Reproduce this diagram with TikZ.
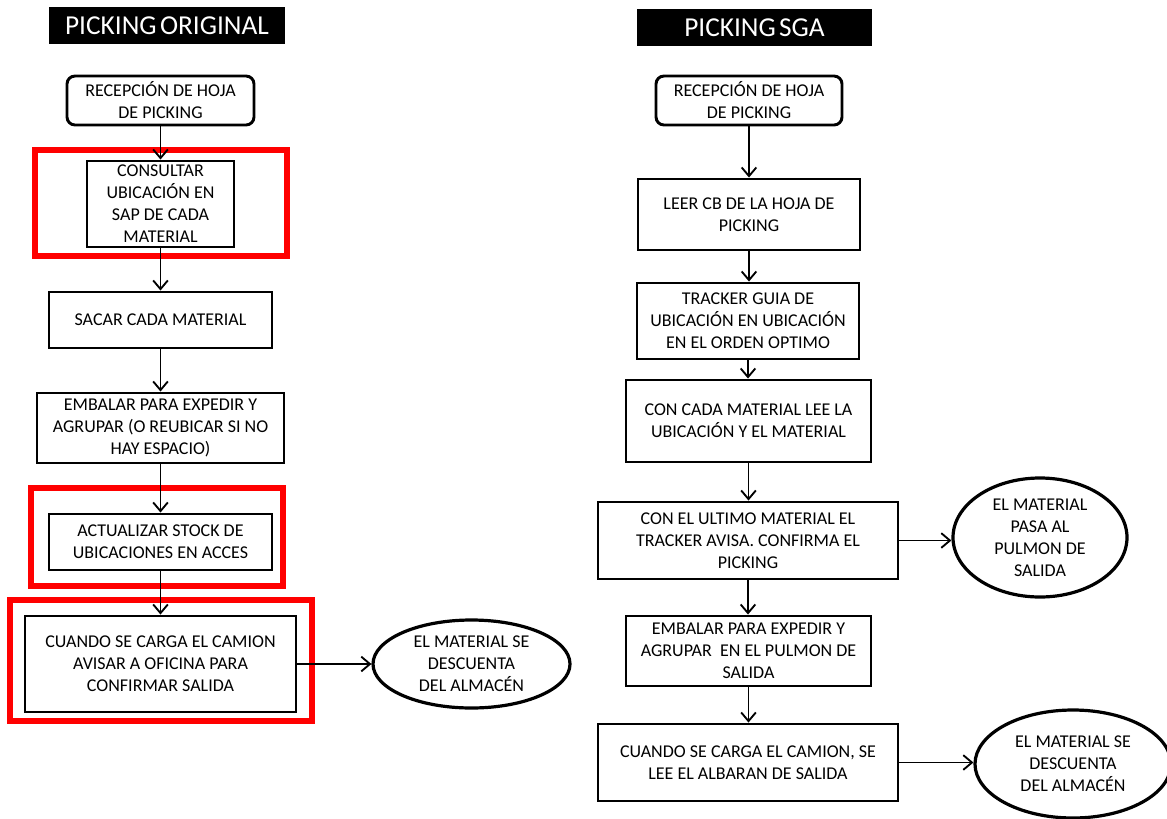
\documentclass[tikz,border=0pt]{standalone}
\usepackage{fontspec}
\setmainfont{Carlito}
\usetikzlibrary{arrows.meta,shapes.geometric}
\begin{document}
\begin{tikzpicture}[x=0.75pt,y=-0.75pt,
  txt/.style={font=\fontsize{13.5}{16.5}\selectfont, align=center, inner sep=0pt},
  box/.style={txt, draw, line width=2.2pt, rectangle},
  rbox/.style={box, rounded corners=6pt},
  oval/.style={txt, draw, line width=2.4pt, ellipse},
  title/.style={fill=black, text=white, font=\fontsize{20.5}{22}\selectfont, inner sep=0pt},
  hl/.style={draw=red, line width=3.8pt},
  flow/.style={line width=1.4pt, -{Straight Barb[length=6.5pt,width=11pt,line width=1.4pt]}}
]
\useasboundingbox (0,0) rectangle (1167,818);

% ---------- left column: original process ----------
\node[title, minimum width=177pt, minimum height=27.75pt] (tL) at (167,25.5) {PICKING\hspace{2.5pt}ORIGINAL};
\node[rbox, minimum width=140.25pt, minimum height=36.75pt] (L1) at (160.5,100.5) {RECEPCIÓN DE HOJA\\DE PICKING};
\node[box, minimum width=110.25pt, minimum height=64.5pt] (L2) at (160.5,204) {CONSULTAR\\UBICACIÓN EN\\SAP DE CADA\\MATERIAL};
\node[box, minimum width=167.25pt, minimum height=42pt] (L3) at (160.5,320) {SACAR CADA MATERIAL};
\node[box, minimum width=185.25pt, minimum height=52.5pt] (L4) at (160.5,428) {EMBALAR PARA EXPEDIR Y\\AGRUPAR (O REUBICAR SI NO\\HAY ESPACIO)};
\node[box, minimum width=167.25pt, minimum height=42pt] (L5) at (160.5,542) {ACTUALIZAR STOCK DE\\UBICACIONES EN ACCES};
\node[box, minimum width=203.25pt, minimum height=72pt] (L6) at (160.5,664) {CUANDO SE CARGA EL CAMION\\AVISAR A OFICINA PARA\\CONFIRMAR SALIDA};
\node[oval, minimum width=147.75pt, minimum height=66pt] (L7) at (471.5,664) {EL MATERIAL SE\\DESCUENTA\\DEL ALMACÉN};

% highlighted steps
\draw[hl] (35,150) rectangle (287,256);
\draw[hl] (31,488) rectangle (283,586);
\draw[hl] (10,600) rectangle (312,721);

\draw[flow] (L1.south) -- (L1.south |- L2.north);
\draw[flow] (L2.south) -- (L2.south |- L3.north);
\draw[flow] (L3.south) -- (L3.south |- L4.north);
\draw[flow] (L4.south) -- (L4.south |- L5.north);
\draw[flow] (L5.south) -- (L5.south |- L6.north);
\draw[flow] (L6.east) -- (L7.west);

% ---------- right column: process with SGA ----------
\node[title, minimum width=176.25pt, minimum height=27.75pt] (tR) at (754.5,27.5) {PICKING\hspace{2.5pt}SGA};
\node[rbox, minimum width=139.5pt, minimum height=36.75pt] (R1) at (749,100.5) {RECEPCIÓN DE HOJA\\DE PICKING};
\node[box, minimum width=166.5pt, minimum height=53.25pt] (R2) at (749,214.5) {LEER CB DE LA HOJA DE\\PICKING};
\node[box, minimum width=166.5pt, minimum height=57pt] (R3) at (748,321) {TRACKER GUIA DE\\UBICACIÓN EN UBICACIÓN\\EN EL ORDEN OPTIMO};
\node[box, minimum width=183.75pt, minimum height=61.5pt] (R4) at (748.5,421) {CON CADA MATERIAL LEE LA\\UBICACIÓN Y EL MATERIAL};
\node[box, minimum width=225pt, minimum height=57.75pt] (R5) at (748,540.5) {CON EL ULTIMO MATERIAL EL\\TRACKER AVISA. CONFIRMA EL\\PICKING};
\node[oval, minimum width=130.5pt, minimum height=89.25pt] (R5e) at (1040,537.5) {EL MATERIAL\\PASA AL\\PULMON DE\\SALIDA};
\node[box, minimum width=183.75pt, minimum height=52.5pt] (R6) at (748.5,651) {EMBALAR PARA EXPEDIR Y\\AGRUPAR~~EN EL PULMON DE\\SALIDA};
\node[box, minimum width=225pt, minimum height=57.75pt] (R7) at (748,762.5) {CUANDO SE CARGA EL CAMION, SE\\LEE EL ALBARAN DE SALIDA};
\node[oval, minimum width=147pt, minimum height=81pt] (R7e) at (1073,764) {EL MATERIAL SE\\DESCUENTA\\DEL ALMACÉN};

\draw[flow] (R1.south) -- (R1.south |- R2.north);
\draw[flow] (R2.south) -- (R2.south |- R3.north);
\draw[flow] (R3.south) -- (R3.south |- R4.north);
\draw[flow] (R4.south) -- (R4.south |- R5.north);
\draw[flow] (R5.south) -- (R5.south |- R6.north);
\draw[flow] (R6.south) -- (R6.south |- R7.north);
\draw[flow] (R5.east) -- (R5.east -| R5e.west);
\draw[flow] (R7.east) -- (R7.east -| R7e.west);
\end{tikzpicture}
\end{document}
